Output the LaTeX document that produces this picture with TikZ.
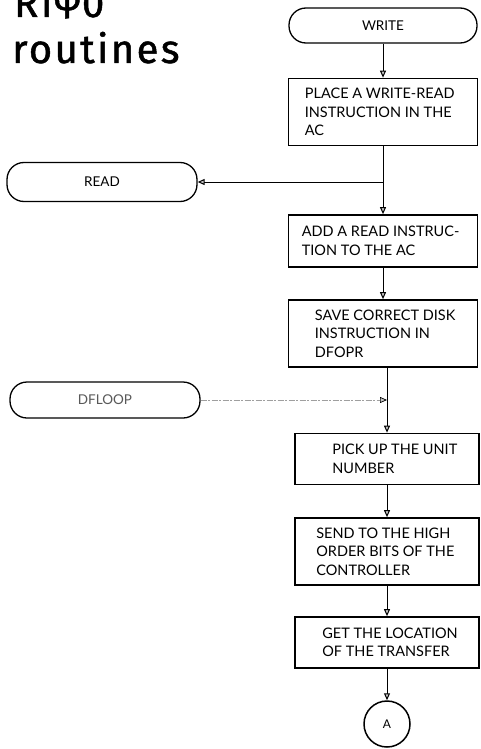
\documentclass[tikz,border=0pt]{standalone}
\usepackage{fontspec}
\setmainfont{Lato}
\newfontfamily\handfont[LetterSpace=6,FakeBold=1.2]{Fira Sans}
\usetikzlibrary{arrows.meta}

\begin{document}
\begin{tikzpicture}[x=1pt,y=-1pt,
  procbox/.style={draw, line width=1.7pt, rectangle, inner sep=0pt},
  proctext/.style={anchor=west, inner sep=0pt, align=left,
    font=\fontsize{14.5}{18.5}\selectfont},
  term/.style={draw, line width=1.3pt, rounded corners=17pt, inner sep=0pt,
    align=center, font=\fontsize{13.5}{15}\selectfont},
  arr/.style={-{Triangle[length=7pt,width=6pt,fill=gray!45]}},
  flow/.style={line width=1pt, arr},
  dotflow/.style={line width=0.7pt, draw=gray!75, dash pattern=on 6pt off 1.5pt on 2pt off 1.5pt,
    -{Triangle[length=7pt,width=6pt,fill=gray!45,color=black]}},
  hand/.style={anchor=base west, inner sep=0pt, font=\handfont\fontsize{40}{40}\selectfont}
]
\clip (0,0) rectangle (480,749);
\fill[white] (0,0) rectangle (480,749);

% handwritten heading, top line runs off the sheet
\node[hand] (head1) at (14,17) {RI\raisebox{7pt}{φ}0};
\node[hand] (head2) at (12,63) {routines};

% main column, upper part
\node[term, minimum width=188pt, minimum height=35pt] (write) at (383,25.5) {WRITE};

\node[procbox, minimum width=189pt, minimum height=67pt] (place) at (383,112) {};
\node[proctext] (placeT) at ([xshift=17pt]place.west)
  {PLACE A WRITE-READ\\INSTRUCTION IN THE\\AC};

\node[procbox, minimum width=189pt, minimum height=52pt] (add) at (383,241) {};
\node[proctext] (addT) at ([xshift=14pt]add.west)
  {ADD A READ INSTRUC-\\TION TO THE AC};

\node[procbox, minimum width=189pt, minimum height=67pt] (save) at (383,333.5) {};
\node[proctext] (saveT) at ([xshift=27pt]save.west)
  {SAVE CORRECT DISK\\INSTRUCTION IN\\DFOPR};

% main column, lower part
\node[procbox, minimum width=184pt, minimum height=51pt] (pick) at (387,459) {};
\node[proctext] (pickT) at ([xshift=38pt]pick.west)
  {PICK UP THE UNIT\\NUMBER};

\node[procbox, minimum width=184pt, minimum height=67pt] (send) at (387,551.5) {};
\node[proctext] (sendT) at ([xshift=22pt]send.west)
  {SEND TO THE HIGH\\ORDER BITS OF THE\\CONTROLLER};

\node[procbox, minimum width=184pt, minimum height=51pt] (get) at (387,642.5) {};
\node[proctext] (getT) at ([xshift=28pt]get.west)
  {GET THE LOCATION\\OF THE TRANSFER};

\node[draw, circle, line width=1.5pt, minimum size=46pt, inner sep=0pt,
  font=\fontsize{12}{14}\selectfont] (conA) at (387,724) {A};

% side entries
\node[term, minimum width=190pt, minimum height=39pt] (read) at (102,182) {READ};
\node[term, minimum width=190pt, minimum height=36pt, text=gray!70!black] (dfloop) at (105,400) {DFLOOP};

\coordinate (j1) at (place.south |- read.east);
\coordinate (j2) at (pick.north |- dfloop.east);

% connectors
\draw[flow] (write) -- (place);
\draw[flow] (place) -- (add);
\draw[flow] (j1) -- (read.east);
\draw[flow] (add) -- (save);
\draw[line width=1pt] (save.south -| pick.north) -- (j2);
\draw[flow] (j2) -- (pick);
\draw[dotflow] (dfloop.east) -- (j2);
\draw[flow] (pick) -- (send);
\draw[flow] (send) -- (get);
\draw[flow] (get) -- (conA);
\end{tikzpicture}
\end{document}
